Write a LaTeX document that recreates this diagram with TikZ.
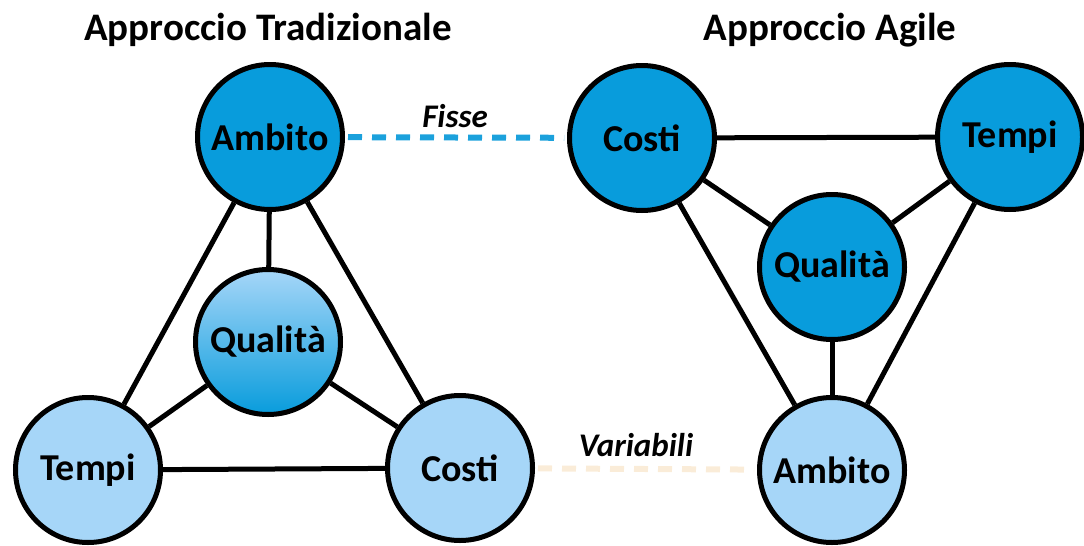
\documentclass[tikz,border=0pt]{standalone}
\usepackage{fontspec}
\setmainfont{Carlito}
\usepackage{tikz}

\definecolor{darkblue}{RGB}{8,156,220}
\definecolor{lightblue}{RGB}{166,214,248}
\definecolor{fixline}{RGB}{27,161,220}
\definecolor{varline}{RGB}{250,236,216}

\begin{document}
\begin{tikzpicture}[
    x=1pt, y=-1pt,
    every node/.style={font=\fontsize{38}{42}\selectfont\bfseries},
    fixed/.style={circle, draw, line width=5pt, minimum size=145pt, inner sep=0pt, fill=darkblue},
    free/.style={circle, draw, line width=5pt, minimum size=145pt, inner sep=0pt, fill=lightblue},
    shaded/.style={circle, draw, line width=5pt, minimum size=145pt, inner sep=0pt, top color=lightblue, bottom color=darkblue},
    link/.style={line width=5pt},
    title/.style={font=\fontsize{39}{43}\selectfont\bfseries},
    tag/.style={font=\fontsize{33}{38}\selectfont\bfseries\itshape},
    dashlink/.style={line width=6pt, dash pattern=on 14pt off 10pt}
]
\useasboundingbox (0,0) rectangle (1084,546);

% traditional
\node[title] (tradtitle) at (268,30) {Approccio Tradizionale};
\node[fixed] (tambito) at (270,137) {Ambito};
\node[shaded] (tqual) at (268,342) {Qualità};
\node[free] (ttempi) at (88,470) {Tempi};
\node[free] (tcosti) at (460,468) {Costi};

% agile
\node[title] (agiletitle) at (830,30) {Approccio Agile};
\node[fixed] (acosti) at (642,138) {Costi};
\node[fixed] (atempi) at (1010,137) {Tempi};
\node[fixed] (aqual) at (832,267) {Qualità};
\node[free] (aambito) at (832,470) {Ambito};

\draw[link] (tambito) -- (tqual);
\draw[link] (tambito) -- (ttempi);
\draw[link] (tambito) -- (tcosti);
\draw[link] (ttempi) -- (tcosti);
\draw[link] (tqual) -- (ttempi);
\draw[link] (tqual) -- (tcosti);

\draw[link] (acosti) -- (atempi);
\draw[link] (acosti) -- (aqual);
\draw[link] (atempi) -- (aqual);
\draw[link] (acosti) -- (aambito);
\draw[link] (atempi) -- (aambito);
\draw[link] (aqual) -- (aambito);

% fixed / variable
\draw[dashlink, fixline, shorten <=3pt, shorten >=3pt] (tambito) -- (acosti);
\draw[dashlink, varline, shorten <=3pt, shorten >=3pt] (tcosti) -- (aambito);
\node[tag] (fisse) at (455,116) {Fisse};
\node[tag] (variabili) at (636,445) {Variabili};
\end{tikzpicture}
\end{document}
